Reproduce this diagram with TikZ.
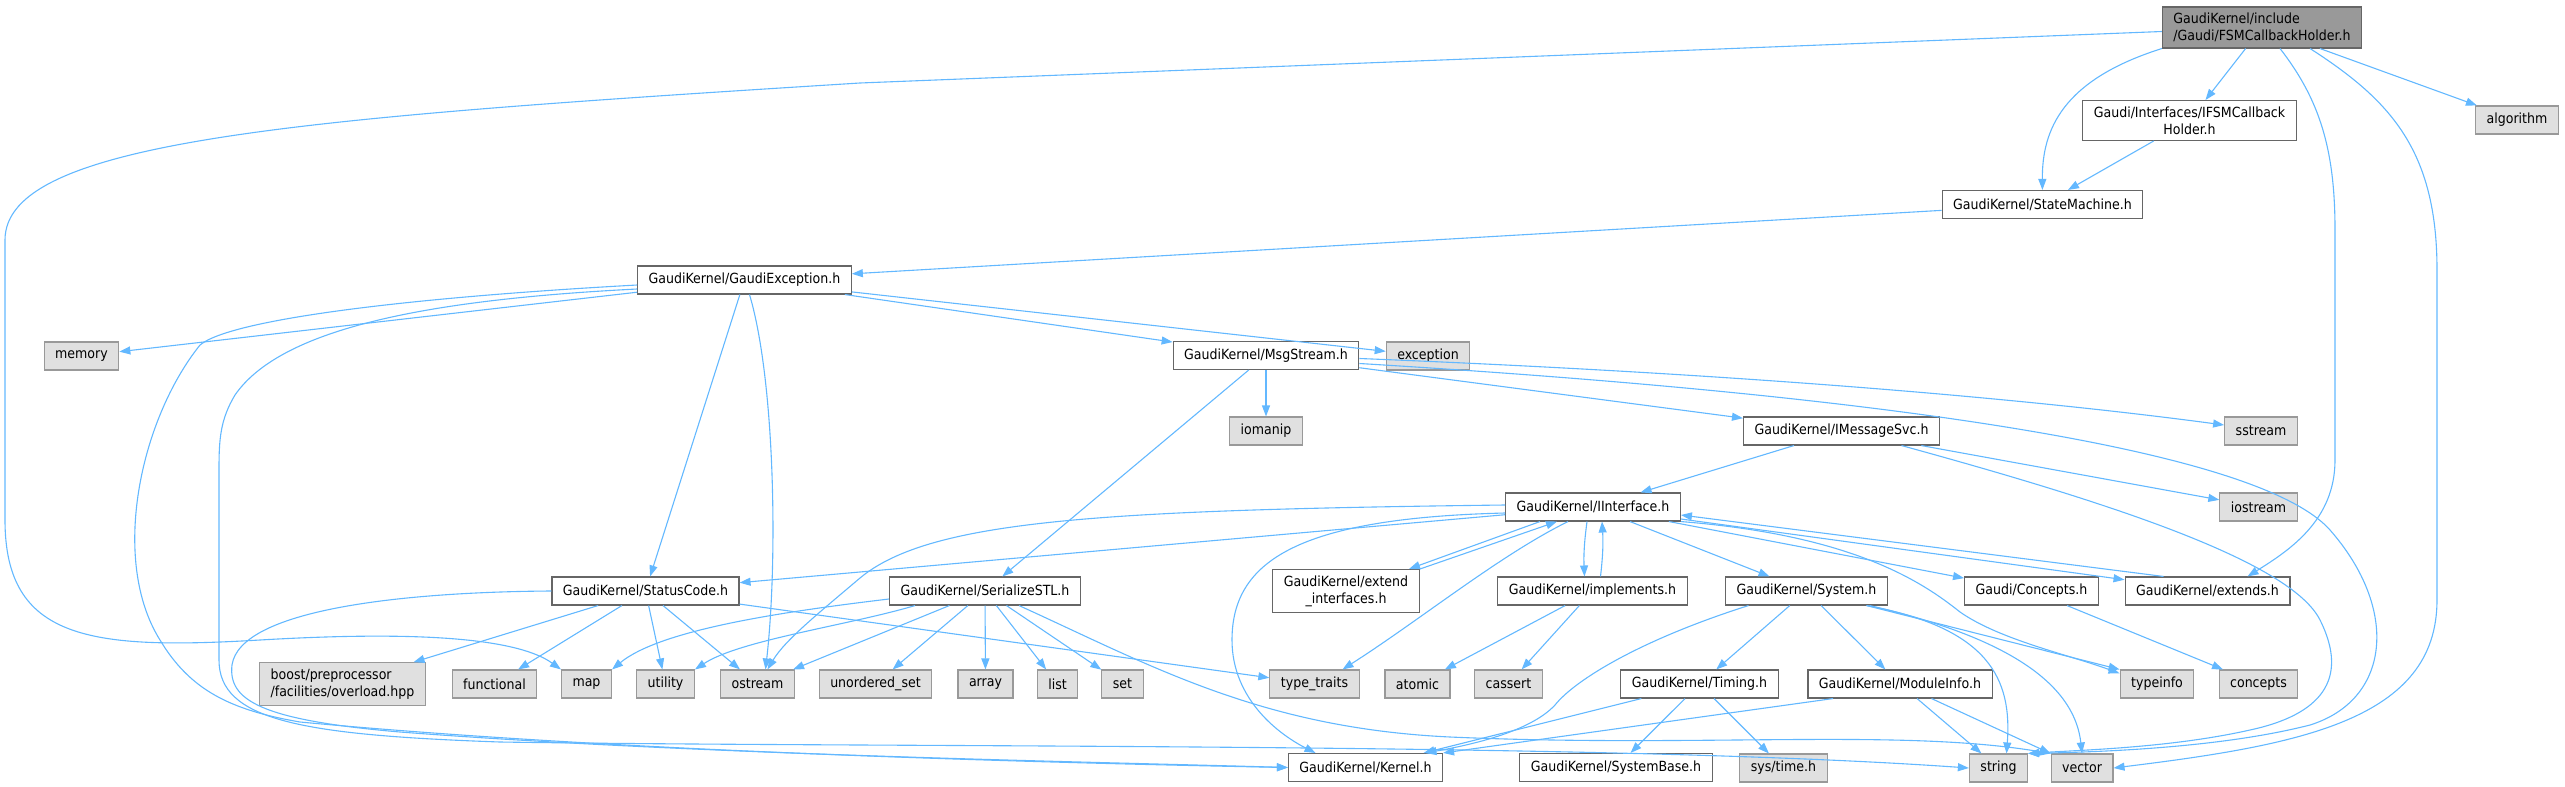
\documentclass[tikz,border=0pt]{standalone}
\usepackage{fontspec}
\setmainfont{DejaVu Sans Condensed}
\usetikzlibrary{arrows.meta,positioning}

\definecolor{edgeblue}{HTML}{63B8FF}
\definecolor{boxgray}{HTML}{666666}
\definecolor{extgray}{HTML}{999999}
\definecolor{extfill}{HTML}{E0E0E0}

\begin{document}
\begin{tikzpicture}[x=1pt, y=-1pt,
  font=\fontsize{14}{17}\selectfont,
  file/.style={rectangle, draw=boxgray, fill=white, line width=1.1pt, inner xsep=11pt, inner ysep=6pt, minimum height=28pt},
  sysfile/.style={file, draw=extgray, fill=extfill},
  topfile/.style={file, fill=extgray},
  line/.style={draw=edgeblue, line width=1.1pt, -{Triangle[length=11pt,width=8pt]}}]

  \useasboundingbox (0,0) rectangle (2565,787);

  % Nodes
  \node [topfile, align=left] (holder) at (2262,27.5) {GaudiKernel/include\\/Gaudi/FSMCallbackHolder.h};
  \node [file, align=center] (ifsm) at (2189.5,120.5) {Gaudi/Interfaces/IFSMCallback\\Holder.h};
  \node [file] (statemachine) at (2042.5,204.5) {GaudiKernel/StateMachine.h};
  \node [sysfile] (algorithm) at (2517,120) {algorithm};
  \node [file] (gaudiexc) at (744.5,280) {GaudiKernel/GaudiException.h};
  \node [sysfile] (memory) at (81.5,356) {memory};
  \node [file] (msgstream) at (1266,355.5) {GaudiKernel/MsgStream.h};
  \node [sysfile] (exception) at (1428,356) {exception};
  \node [sysfile] (iomanip) at (1266,431) {iomanip};
  \node [file] (imsgsvc) at (1841.5,431) {GaudiKernel/IMessageSvc.h};
  \node [sysfile] (sstream) at (2261,431) {sstream};
  \node [file] (iinterface) at (1593,507) {GaudiKernel/IInterface.h};
  \node [sysfile] (iostream) at (2258.5,507) {iostream};
  \node [file] (statuscode) at (645.5,591) {GaudiKernel/StatusCode.h};
  \node [file] (serialize) at (985,591) {GaudiKernel/SerializeSTL.h};
  \node [file, align=center] (extendif) at (1346,591) {GaudiKernel/extend\\\_interfaces.h};
  \node [file] (implements) at (1592.5,591) {GaudiKernel/implements.h};
  \node [file] (system) at (1806.5,591) {GaudiKernel/System.h};
  \node [file] (concepts) at (2031.5,591) {Gaudi/Concepts.h};
  \node [file] (extends) at (2207.5,591) {GaudiKernel/extends.h};
  \node [sysfile, align=left] (boost) at (342.5,684) {boost/preprocessor\\/facilities/overload.hpp};
  \node [sysfile] (functional) at (494.5,684) {functional};
  \node [sysfile] (map) at (586.5,684) {map};
  \node [sysfile] (utility) at (665.5,684) {utility};
  \node [sysfile] (ostream) at (757.5,684) {ostream};
  \node [sysfile] (unorderedset) at (875.5,684) {unordered\_set};
  \node [sysfile] (array) at (985.5,684) {array};
  \node [sysfile] (list) at (1057.5,684) {list};
  \node [sysfile] (set) at (1122.5,684) {set};
  \node [sysfile] (typetraits) at (1314.5,684) {type\_traits};
  \node [sysfile] (atomic) at (1417.5,684) {atomic};
  \node [sysfile] (cassert) at (1508.5,684) {cassert};
  \node [file] (timing) at (1699.5,684) {GaudiKernel/Timing.h};
  \node [file] (moduleinfo) at (1900,684) {GaudiKernel/ModuleInfo.h};
  \node [sysfile] (typeinfo) at (2157,684) {typeinfo};
  \node [sysfile] (stdconcepts) at (2258.5,684) {concepts};
  \node [file] (kernel) at (1365.5,767.5) {GaudiKernel/Kernel.h};
  \node [file] (systembase) at (1616,767.5) {GaudiKernel/SystemBase.h};
  \node [sysfile] (systime) at (1783.5,768) {sys/time.h};
  \node [sysfile] (string) at (1998.5,768) {string};
  \node [sysfile] (vector) at (2082,768) {vector};

  % Edges
  \path [line] ([yshift=-4pt]holder.west) -- (860,83) .. controls (300,118) and (5,140) .. (5,240) -- (5,520) .. controls (5,640) and (90,650) .. (260,640) .. controls (430,630) and (520,640) .. (map.north west);
  \path [line] (holder.south west) .. controls (2062,80) and (2042,130) .. (statemachine);
  \path [line] (holder) -- (ifsm);
  \path [line] (holder) -- (algorithm);
  \path [line] ([xshift=18pt]holder.south) .. controls (2320,100) and (2335,150) .. (2335,230) -- (2335,460) .. controls (2335,520) and (2290,550) .. ([xshift=40pt]extends.north);
  \path [line] ([xshift=48pt]holder.south) .. controls (2390,100) and (2437,150) .. (2437,270) -- (2437,600) .. controls (2437,720) and (2300,745) .. (vector.east);
  \path [line] (ifsm) -- (statemachine);
  \path [line] (statemachine) -- (gaudiexc);

  \path [line] (gaudiexc) -- (memory);
  \path [line] (gaudiexc) -- (statuscode);
  \path [line] ([xshift=5pt]gaudiexc.south) .. controls (775,380) and (778,560) .. ([xshift=8pt]ostream.north);
  \path [line] (gaudiexc) -- (msgstream);
  \path [line] (gaudiexc) -- (exception);
  \path [line] ([yshift=-5pt]gaudiexc.west) .. controls (400,298) and (230,320) .. (200,345) .. controls (140,420) and (110,560) .. (160,640) .. controls (190,690) and (230,710) .. (300,722) .. controls (600,750) and (1000,762) .. (kernel.west);
  \path [line] ([yshift=-9pt]gaudiexc.west) .. controls (420,300) and (280,330) .. (235,395) .. controls (220,420) and (219,440) .. (219,470) -- (219,660) .. controls (219,720) and (300,735) .. (500,742) .. controls (900,748) and (1600,742) .. (string.west);

  \path [line] (msgstream) -- (iomanip);
  \path [line] (msgstream) -- (serialize);
  \path [line] (msgstream) -- (imsgsvc);
  \path [line] ([yshift=-3pt]msgstream.east) .. controls (1700,372) and (2000,395) .. ([yshift=6pt]sstream.west);
  \path [line] ([yshift=-8pt]msgstream.east) .. controls (1800,390) and (2250,440) .. (2330,530) .. controls (2400,610) and (2390,700) .. (2310,725) .. controls (2220,748) and (2100,752) .. (string.north east);

  \path [line] (imsgsvc) -- (iinterface);
  \path [line] (imsgsvc) -- (iostream);
  \path [line] ([xshift=60pt]imsgsvc.south) .. controls (2100,500) and (2290,560) .. (2320,620) .. controls (2350,680) and (2320,715) .. (2250,730) .. controls (2170,748) and (2080,750) .. (string.north east);

  \path [line] (iinterface) -- (statuscode);
  \path [line] ([yshift=2pt]iinterface.west) .. controls (1100,510) and (930,520) .. (860,578) .. controls (820,612) and (785,640) .. ([xshift=10pt]ostream.north);
  \path [line] ([yshift=-6pt]iinterface.west) .. controls (1300,518) and (1232,560) .. (1232,640) .. controls (1232,700) and (1280,735) .. ([xshift=-50pt]kernel.north);
  \path [line] ([xshift=-25pt]iinterface.south) .. controls (1500,555) and (1420,620) .. ([xshift=28pt]typetraits.north);
  \path [line] ([xshift=-53pt]iinterface.south) -- ([xshift=63pt]extendif.north);
  \path [line] ([xshift=74pt]extendif.north) -- ([xshift=-36pt]iinterface.south);
  \path [line] ([xshift=-6pt]iinterface.south) to [bend right=5] ([xshift=-8pt]implements.north);
  \path [line] ([xshift=8pt]implements.north) to [bend right=5] ([xshift=9pt]iinterface.south);
  \path [line] (iinterface) -- (system);
  \path [line] (iinterface) -- (concepts);
  \path [line] (iinterface) -- (extends);
  \path [line] ([xshift=-44pt]extends.north) -- ([yshift=-8pt]iinterface.east);
  \path [line] (iinterface.south east) .. controls (1850,535) and (1920,580) .. (1960,612) .. controls (2000,640) and (2070,655) .. ([yshift=-4pt]typeinfo.north west);

  \path [line] ([yshift=-8pt]serialize.west) .. controls (780,612) and (660,630) .. (map.north east);
  \path [line] ([xshift=-70pt]serialize.south) .. controls (850,625) and (740,640) .. (utility.north east);
  \path [line] (serialize) -- (ostream);
  \path [line] (serialize) -- (unorderedset);
  \path [line] (serialize) -- (array);
  \path [line] (serialize) -- (list);
  \path [line] (serialize) -- (set);
  \path [line] ([xshift=34pt]serialize.south) .. controls (1150,665) and (1260,728) .. (1450,737) .. controls (1700,748) and (1900,728) .. (vector.north west);

  \path [line] (statuscode) -- (boost);
  \path [line] (statuscode) -- (functional);
  \path [line] (statuscode) -- (utility);
  \path [line] (statuscode) -- (ostream);
  \path [line] (statuscode) -- (typetraits);
  \path [line] (statuscode.west) .. controls (400,592) and (240,610) .. (232,665) .. controls (228,700) and (260,720) .. (400,732) .. controls (700,755) and (1100,762) .. (kernel.west);

  \path [line] (implements) -- (atomic);
  \path [line] (implements) -- (cassert);

  \path [line] ([xshift=-58pt]system.south) .. controls (1640,640) and (1575,680) .. (1555,705) .. controls (1530,732) and (1470,745) .. ([xshift=60pt]kernel.north);
  \path [line] (system) -- (timing);
  \path [line] (system) -- (moduleinfo);
  \path [line] ([xshift=60pt]system.south) -- (typeinfo.north west);
  \path [line] ([xshift=60pt]system.south) .. controls (1990,628) and (2012,680) .. ([xshift=8pt]string.north);
  \path [line] ([xshift=63pt]system.south) .. controls (2020,640) and (2075,690) .. (vector.north);

  \path [line] (timing) -- (kernel);
  \path [line] (timing) -- (systembase);
  \path [line] (timing) -- (systime);
  \path [line] ([xshift=-67pt]moduleinfo.south) -- (kernel.north east);
  \path [line] (moduleinfo) -- (string);
  \path [line] (moduleinfo) -- (vector);
  \path [line] (concepts) -- (stdconcepts);

\end{tikzpicture}
\end{document}
